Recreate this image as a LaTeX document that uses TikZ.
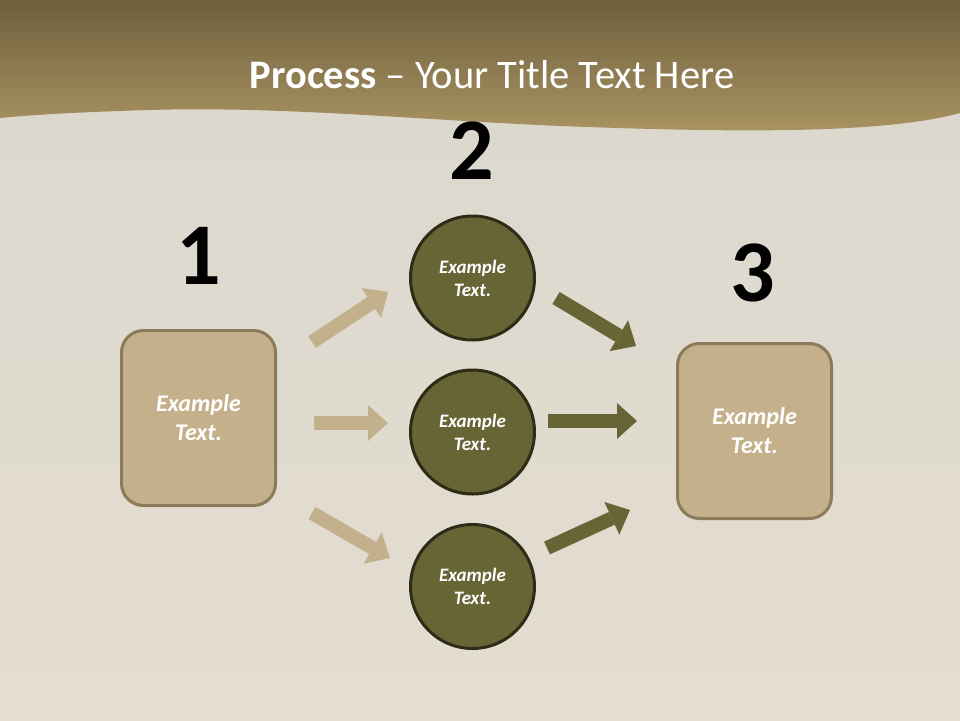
\documentclass[tikz,border=0pt]{standalone}
\usepackage{fontspec}
\setmainfont{Carlito}
\usetikzlibrary{arrows.meta}
\definecolor{paperA}{HTML}{DAD7CE}
\definecolor{paperB}{HTML}{E4DED0}
\definecolor{hdrTop}{HTML}{6E5F3D}
\definecolor{hdrBot}{HTML}{AA9462}
\definecolor{tanFill}{HTML}{C4B08A}
\definecolor{tanLine}{HTML}{8C7B5B}
\definecolor{tanArrow}{HTML}{C3B18D}
\definecolor{olive}{HTML}{676535}
\definecolor{oliveLine}{HTML}{2E2B16}
\tikzset{
  stepbox/.style={draw=tanLine,line width=3pt,fill=tanFill,rounded corners=22pt,
    minimum width=154pt,minimum height=175pt,align=center,text=white,
    font=\fontsize{24}{29}\selectfont\bfseries\itshape},
  stepcircle/.style={circle,draw=oliveLine,line width=3pt,fill=olive,minimum size=124pt,
    align=center,text=white,font=\fontsize{19}{23}\selectfont\bfseries\itshape},
  stepnum/.style={font=\fontsize{88}{88}\selectfont\bfseries,text=black},
  tanarrow/.style={draw=tanArrow,line width=14pt,-{Triangle[width=36pt,length=20pt,line width=0pt]}},
  olivearrow/.style={draw=olive,line width=14pt,-{Triangle[width=36pt,length=20pt,line width=0pt]}}
}
\begin{document}
\begin{tikzpicture}[x=1pt,y=-1pt]
\useasboundingbox (0,0) rectangle (960,720);
% background
\shade[top color=paperA,bottom color=paperB] (0,0) rectangle (960,720);
% header
\shade[top color=hdrTop,bottom color=hdrBot]
  (0,0) -- (960,0) -- (960,113)
  .. controls (880,135) and (720,132) .. (560,126)
  .. controls (420,120) and (280,106) .. (150,110)
  .. controls (80,112) and (30,115) .. (0,118) -- cycle;
\node[text=white,font=\fontsize{40.5}{44}\selectfont,anchor=base] (title) at (492,88)
  {\textbf{Process} -- Your Title Text Here};
% numbers
\node[stepnum,anchor=base] (n1) at (199,284) {1};
\node[stepnum,anchor=base] (n2) at (472,179) {2};
\node[stepnum,anchor=base] (n3) at (753,301) {3};
% boxes
\node[stepbox] (b1) at (198.5,418) {Example\\Text.};
\node[stepbox] (b2) at (754.5,431) {Example\\Text.};
% circles
\node[stepcircle] (c1) at (472.5,278) {Example\\Text.};
\node[stepcircle] (c2) at (472.5,432) {Example\\Text.};
\node[stepcircle] (c3) at (472.5,586.5) {Example\\Text.};
% arrow coordinates
\coordinate (a1s) at (312,342); \coordinate (a1e) at (388,292);
\coordinate (a2s) at (314,423); \coordinate (a2e) at (388,423);
\coordinate (a3s) at (312,513); \coordinate (a3e) at (390,558);
\coordinate (d1s) at (556,298); \coordinate (d1e) at (636,346);
\coordinate (d2s) at (548,421); \coordinate (d2e) at (637,421);
\coordinate (d3s) at (547,548); \coordinate (d3e) at (630,510);
\draw[tanarrow] (a1s) -- (a1e);
\draw[tanarrow] (a2s) -- (a2e);
\draw[tanarrow] (a3s) -- (a3e);
\draw[olivearrow] (d1s) -- (d1e);
\draw[olivearrow] (d2s) -- (d2e);
\draw[olivearrow] (d3s) -- (d3e);
\end{tikzpicture}
\end{document}
